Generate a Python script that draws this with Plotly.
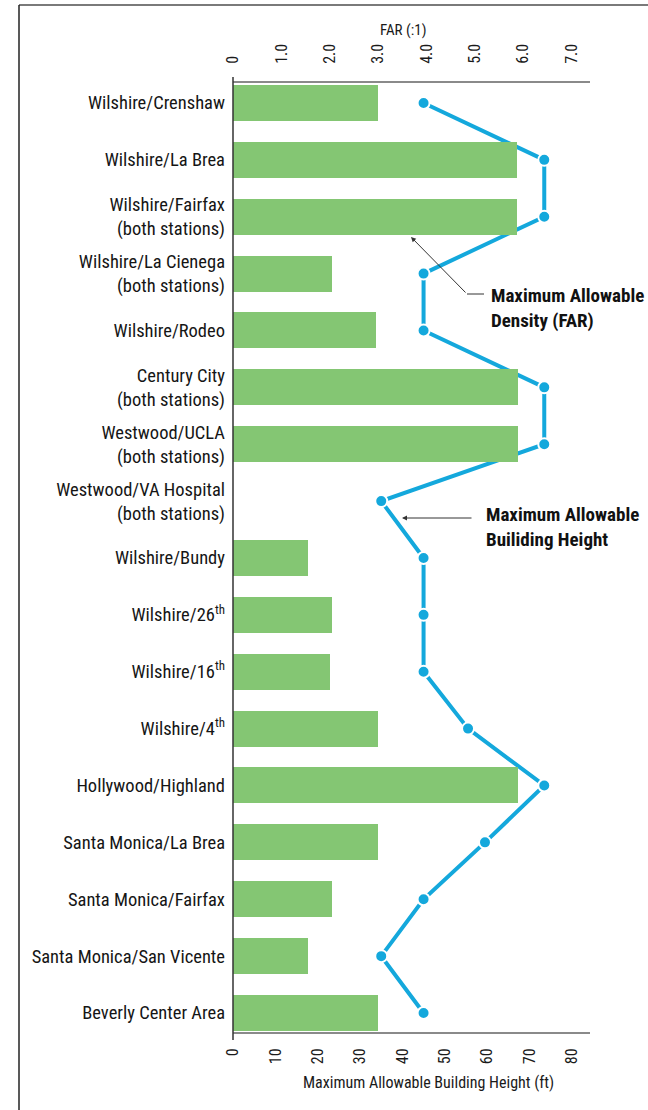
import plotly.graph_objects as go

# Station areas, top to bottom
stations = [
    "Wilshire/Crenshaw",
    "Wilshire/La Brea",
    "Wilshire/Fairfax<br>(both stations)",
    "Wilshire/La Cienega<br>(both stations)",
    "Wilshire/Rodeo",
    "Century City<br>(both stations)",
    "Westwood/UCLA<br>(both stations)",
    "Westwood/VA Hospital<br>(both stations)",
    "Wilshire/Bundy",
    "Wilshire/26<sup>th</sup>",
    "Wilshire/16<sup>th</sup>",
    "Wilshire/4<sup>th</sup>",
    "Hollywood/Highland",
    "Santa Monica/La Brea",
    "Santa Monica/Fairfax",
    "Santa Monica/San Vicente",
    "Beverly Center Area",
]

# Maximum allowable density (FAR, :1)
far = [3.0, 5.87, 5.87, 2.05, 2.95, 5.9, 5.9, None, 1.55, 2.05, 2.0, 3.0, 5.9, 3.0, 2.05, 1.55, 3.0]

# Maximum allowable building height (ft)
height_ft = [45, 73.5, 73.5, 45, 45, 73.5, 73.5, 35, 45, 45, 45, 55.5, 73.5, 59.5, 45, 35, 45]

far_ticks = [0, 1, 2, 3, 4, 5, 6, 7]
far_ticktext = ["0", "1.0", "2.0", "3.0", "4.0", "5.0", "6.0", "7.0"]
height_ticks = [0, 10, 20, 30, 40, 50, 60, 70, 80]

rows = list(range(len(stations)))

W, H = 648, 1110
L, R, T, B = 233, 58, 83, 78
PW, PH = W - L - R, H - T - B


def px(x):
    return (x - L) / PW


def py(y):
    return (H - B - y) / PH


FONT = "Liberation Sans Narrow, Arial Narrow, Roboto Condensed, Roboto, sans-serif"
GREEN = "#84C673"
BLUE = "#14A8DC"

fig = go.Figure()

fig.add_trace(go.Bar(
    x=far, y=rows, orientation="h", xaxis="x2", yaxis="y",
    width=0.633, marker=dict(color=GREEN, line=dict(width=0)),
    hoverinfo="skip", showlegend=False,
))

fig.add_trace(go.Scatter(
    x=height_ft, y=rows, xaxis="x", yaxis="y", mode="lines+markers",
    line=dict(color=BLUE, width=4),
    marker=dict(color=BLUE, size=12, line=dict(color="white", width=2)),
    hoverinfo="skip", showlegend=False, cliponaxis=False,
))

fig.update_layout(
    width=W, height=H,
    margin=dict(l=L, r=R, t=T, b=B),
    paper_bgcolor="white", plot_bgcolor="white",
    font=dict(family=FONT, color="#1a1a1a"),
    bargap=0,
    yaxis=dict(
        range=[16.334, -0.351], tickvals=rows, ticktext=stations,
        showline=False, ticks="", showgrid=False, zeroline=False,
        tickfont=dict(size=18.5, color="#151515"), ticklabelstandoff=7,
    ),
    xaxis=dict(
        range=[0, 84.3], side="bottom", anchor="y",
        tickvals=height_ticks, tickangle=-90, ticks="",
        showline=True, linecolor="#8a8a8a", linewidth=2,
        showgrid=False, zeroline=False,
        tickfont=dict(size=16, color="#1a1a1a"), ticklabelstandoff=8,
    ),
    xaxis2=dict(
        range=[0, 7.38], side="top", anchor="y", overlaying="x",
        tickvals=far_ticks, ticktext=far_ticktext, tickangle=-90, ticks="",
        showline=True, linecolor="#8a8a8a", linewidth=2,
        showgrid=False, zeroline=False,
        tickfont=dict(size=16, color="#1a1a1a"), ticklabelstandoff=14,
    ),
)

shapes = [
    # outer frame (top and left edges)
    dict(type="line", xref="paper", yref="paper", x0=px(19), x1=px(648), y0=py(5), y1=py(5),
         line=dict(color="#7a7a7a", width=2)),
    dict(type="line", xref="paper", yref="paper", x0=px(19), x1=px(19), y0=py(5), y1=py(1110),
         line=dict(color="#222222", width=1.5)),
    # left category axis
    dict(type="line", xref="paper", yref="paper", x0=0, x1=0, y0=py(1040), y1=py(77),
         line=dict(color="#333333", width=1.5)),
    # leader elbow for the density callout
    dict(type="line", xref="paper", yref="paper", x0=px(467), x1=px(484), y0=py(294), y1=py(294),
         line=dict(color="#333333", width=1)),
]
fig.update_layout(shapes=shapes)

annotations = [
    dict(xref="paper", yref="paper", x=px(403), y=py(30), text="FAR (:1)", showarrow=False,
         xanchor="center", yanchor="middle", font=dict(size=15, color="#1a1a1a")),
    dict(xref="paper", yref="paper", x=px(428), y=py(1082),
         text="Maximum Allowable Building Height (ft)", showarrow=False,
         xanchor="center", yanchor="middle", font=dict(size=16, color="#1a1a1a")),
    dict(xref="paper", yref="paper", x=px(489), y=py(308),
         text="<b>Maximum Allowable<br>Density (FAR)</b>", showarrow=False, align="left",
         xanchor="left", yanchor="middle", font=dict(size=19, color="#111111")),
    dict(xref="paper", yref="paper", x=px(484), y=py(527),
         text="<b>Maximum Allowable<br>Builiding Height</b>", showarrow=False, align="left",
         xanchor="left", yanchor="middle", font=dict(size=19, color="#111111")),
    dict(xref="paper", yref="paper", x=px(411), y=py(237), ax=56, ay=57, text="",
         showarrow=True, arrowhead=2, arrowsize=1, arrowwidth=1, arrowcolor="#333333"),
    dict(xref="paper", yref="paper", x=px(402), y=py(518), ax=71, ay=0, text="",
         showarrow=True, arrowhead=2, arrowsize=1, arrowwidth=1, arrowcolor="#333333"),
]
fig.update_layout(annotations=annotations)

fig.write_html("out.html")
